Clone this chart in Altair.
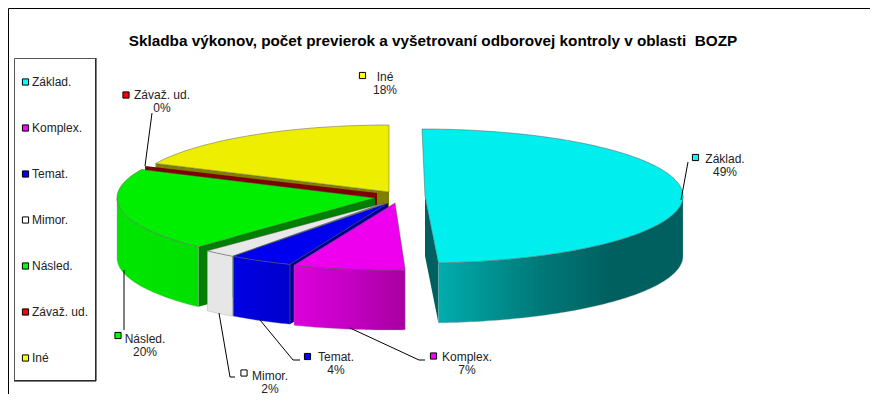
import math
import altair as alt
import pandas as pd

# ---- chart values ----
categories = ["Základ.", "Komplex.", "Temat.", "Mimor.", "Násled.", "Závaž. ud.", "Iné"]
shares = [49, 7, 4, 2, 20, 0, 18]
legend_colors = ["#00ffff", "#ff00ff", "#0000ff", "#ffffff", "#00ff00", "#ff0000", "#ffff00"]
top_colors = ["#00eeee", "#ee00ee", "#0000ee", "#e8e8e8", "#00ee00", "#7f0000", "#eeee00"]
side_colors = ["#006060", "#000090", "#000090", "#8c8c8c", "#007f00", "#7f0000", "#7f7f00"]
TITLE = "Skladba výkonov, počet previerok a vyšetrovaní odborovej kontroly v oblasti\u00a0 BOZP"

# ---- layout of the exploded 3-D pie (page pixels): centre x, centre y, x radius ----
RY, DEPTH = 67, 60
centers = [(422, 196, 261), (389, 203, 258), (385, 202, 258), (384, 202, 258),
           (375, 198, 258), (378.5, 194.5, 258), (389, 192, 258)]
apexes = [(425, 196), (395, 203), (388, 203), (384, 203), (375, 198), (377, 193), (389, 192)]
radial_side = [True, False, True, True, True, True, True]
wall_fills = {
    0: [("#00adad", 0), ("#007a7a", 0.4), ("#006060", 0.7), ("#006060", 1)],
    1: [("#dc00dc", 0), ("#c400c4", 0.5), ("#a800a0", 1)],
    2: [("#0000e4", 0), ("#0000cc", 1)],
    3: [("#e6e6e6", 0), ("#e6e6e6", 1)],
    4: [("#00e600", 0), ("#00e000", 1)],
}
draw_order = [6, 5, 4, 3, 2, 1, 0]

legend_x, legend_marker_x = 32, 25.5
legend_y = [82, 128, 174, 220, 266, 312, 358]
label_pos = [(725, 159), (467, 357), (336, 357), (270, 375.5), (145, 339), (162, 95), (385, 77)]
marker_pos = [(695.5, 157.5), (433.5, 356), (307.5, 356.5), (244, 373), (118, 335.5), (126, 95), (362.5, 75.5)]
leaders = [
    [(688, 162), (681, 200)],
    [(350, 328), (419, 360), (425, 360)],
    [(260, 320), (293, 360), (300, 360)],
    [(219, 313), (230, 377), (235, 377)],
    [(124, 270), (124, 330)],
    [(145, 166), (152, 113)],
]

X = alt.X("x:Q", scale=alt.Scale(domain=[8, 870]), axis=None)
Y = alt.Y("y:Q", scale=alt.Scale(domain=[394, 8]), axis=None)


def rim(c, deg):
    t = math.radians(deg)
    return (c[0] + c[2] * math.sin(t), c[1] - RY * math.cos(t))


def arc(c, a, b, dy=0):
    n = max(2, int(abs(b - a)) + 1)
    pts = [rim(c, a + (b - a) * k / n) for k in range(n + 1)]
    return [(p[0], p[1] + dy) for p in pts]


def poly(points, fill, stroke=None, width=0.6, opacity=1):
    pts = list(points) + [points[0]]
    df = pd.DataFrame({"x": [p[0] for p in pts], "y": [p[1] for p in pts], "i": range(len(pts))})
    kw = dict(fill=fill, strokeWidth=width if stroke else 0, interpolate="linear", clip=False)
    kw["stroke"] = stroke if stroke else fill if isinstance(fill, str) else "transparent"
    return alt.Chart(df).mark_line(strokeOpacity=opacity if stroke else 0, **kw).encode(
        x=X, y=Y, order=alt.Order("i:Q")
    )


def line(points, color="#000000", width=1):
    df = pd.DataFrame({"x": [p[0] for p in points], "y": [p[1] for p in points], "i": range(len(points))})
    return alt.Chart(df).mark_line(color=color, strokeWidth=width).encode(x=X, y=Y, order=alt.Order("i:Q"))


layers = []

# frame and legend box
layers.append(line([(8.5, 394), (8.5, 8.5), (870, 8.5)], "#000000", 1))
box = pd.DataFrame({"x": [14.5], "x2": [95.5], "y": [58.5], "y2": [380.5]})
layers.append(alt.Chart(box).mark_rect(fill="#ffffff", stroke="#555555", strokeWidth=1).encode(
    x=X, x2="x2:Q", y=Y, y2="y2:Q"))
layers.append(line([(96, 58), (96, 381), (14, 381)], "#000000", 1))

# slices, back to front
cum = [0]
for s in shares:
    cum.append(cum[-1] + s)
for idx in draw_order:
    a, b = cum[idx] * 3.6, cum[idx + 1] * 3.6
    c, ap = centers[idx], apexes[idx]
    # radial side wall
    if radial_side[idx]:
        edge = b if idx == 0 else a
        r = rim(c, edge)
        layers.append(poly([ap, r, (r[0], r[1] + DEPTH), (ap[0], ap[1] + DEPTH)], side_colors[idx]))
    # outer wall (front half of the rim only)
    lo, hi = max(a, 90), min(b, 270)
    if hi > lo and idx in wall_fills:
        upper = arc(c, lo, hi)
        lower = arc(c, lo, hi, DEPTH)
        stops = [alt.GradientStop(color=col, offset=o) for col, o in wall_fills[idx]]
        grad = alt.LinearGradient(gradient="linear", stops=stops, x1=0, x2=1, y1=0, y2=0)
        layers.append(poly(upper + lower[::-1], grad, "#9a9a9a", 0.5, 0.7))
    # top face
    if b > a:
        layers.append(poly([ap] + arc(c, a, b), top_colors[idx], "#555555", 0.6, 0.8))

# leader lines
for pts in leaders:
    layers.append(line(pts, "#000000", 1))

# data label markers
markers = pd.DataFrame({
    "x": [p[0] for p in marker_pos], "y": [p[1] for p in marker_pos], "c": legend_colors})
layers.append(alt.Chart(markers).mark_point(shape="square", filled=True, size=38, stroke="#000000", strokeWidth=1, opacity=1).encode(
    x=X, y=Y, fill=alt.Fill("c:N", scale=None)))

# data labels
FONT = "Liberation Sans"
rows = []
for n, s, p in zip(categories, shares, label_pos):
    rows.append({"x": p[0], "y": p[1], "t": n})
    rows.append({"x": p[0], "y": p[1] + 13, "t": f"{s}%"})
layers.append(alt.Chart(pd.DataFrame(rows)).mark_text(
    font=FONT, fontSize=12, color="#222222", align="center", baseline="middle"
).encode(x=X, y=Y, text="t:N"))

# legend
leg = pd.DataFrame({"x": [legend_marker_x] * 7, "y": legend_y, "c": legend_colors})
layers.append(alt.Chart(leg).mark_point(shape="square", filled=True, size=38, stroke="#000000", strokeWidth=1, opacity=1).encode(
    x=X, y=Y, fill=alt.Fill("c:N", scale=None)))
legt = pd.DataFrame({"x": [legend_x] * 7, "y": legend_y, "t": categories})
layers.append(alt.Chart(legt).mark_text(
    font=FONT, fontSize=12, color="#222222", align="left", baseline="middle"
).encode(x=X, y=Y, text="t:N"))

# title
tt = pd.DataFrame({"x": [433], "y": [41], "t": [TITLE]})
layers.append(alt.Chart(tt).mark_text(
    font=FONT, fontSize=15.3, fontWeight="bold", color="#000000", align="center", baseline="middle"
).encode(x=X, y=Y, text="t:N"))

chart = alt.layer(*layers).properties(
    width=862, height=386, padding=0, autosize=alt.AutoSizeParams(type="none"), background="#ffffff"
).configure_view(stroke=None)

chart.save("out.html", embed_options={"renderer": "svg", "actions": False})
